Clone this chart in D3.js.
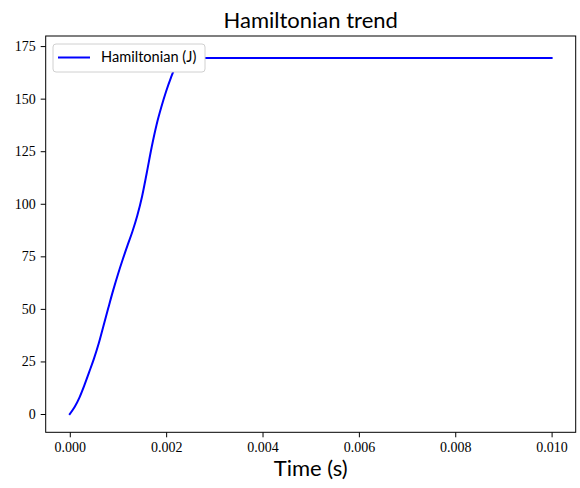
<!DOCTYPE html>
<html><head><meta charset="utf-8">
<script src="https://cdn.jsdelivr.net/npm/d3@7"></script>
<style>body{margin:0;background:#fff}svg{display:block}</style>
</head><body>
<svg id="c" width="580" height="488"></svg>
<script>
const times = [0,0.0001,0.0002,0.0003,0.0004,0.0005,0.0006,0.0007,0.0008,0.0009,0.0010,0.0011,0.0012,0.0013,0.0014,0.0015,0.0016,0.0017,0.0018,0.0019,0.0020,0.0021,0.0022,0.0023,0.0024,0.0030,0.0040,0.0050,0.0060,0.0070,0.0080,0.0090,0.0100];
const hamiltonian = [0,3.3,7.8,13.5,19.8,26.2,33.5,42,50.5,58.8,66.5,73.6,80.3,86.8,94.3,103.5,115,127,137.5,146,153.5,160,165.5,168.5,169.3,169.3,169.3,169.3,169.3,169.3,169.3,169.3,169.3];
const xTicks = [0,0.002,0.004,0.006,0.008,0.010];
const yTicks = [0,25,50,75,100,125,150,175];
const titleText = "Hamiltonian trend";
const xLabel = "Time (s)";
const seriesName = "Hamiltonian (J)";

const svg = d3.select("#c");
const L = 45.7, R = 575.7, T = 36, B = 432.3;
const x = d3.scaleLinear().domain([-0.0005, 0.0105]).range([L, R]);
const y = d3.scaleLinear().domain([-8.7, 179.8]).range([B, T]);

const data = times.map((t,i)=>({t, h: hamiltonian[i]}));
svg.append("path").datum(data)
  .attr("fill","none").attr("stroke","#0000ff").attr("stroke-width",2)
  .attr("stroke-linejoin","round").attr("stroke-linecap","square")
  .attr("d", d3.line().curve(d3.curveMonotoneX).x(d=>x(d.t)).y(d=>y(d.h)));

const xAxis = svg.append("g").attr("transform",`translate(0,${B})`)
  .call(d3.axisBottom(x).tickValues(xTicks).tickFormat(d3.format(".3f")).tickSizeOuter(0).tickSize(5).tickPadding(5));
const yAxis = svg.append("g").attr("transform",`translate(${L},0)`)
  .call(d3.axisLeft(y).tickValues(yTicks).tickFormat(d3.format("d")).tickSizeOuter(0).tickSize(5).tickPadding(5));
[xAxis,yAxis].forEach(a=>{
  a.select(".domain").remove();
  a.selectAll("line").attr("stroke","#000").attr("stroke-width",1);
  a.selectAll("text").attr("font-family","'Liberation Serif', serif").attr("font-size",14).attr("fill","#000");
});
yAxis.selectAll("text").attr("dy","0.32em");

svg.append("rect").attr("x",L).attr("y",T).attr("width",R-L).attr("height",B-T)
  .attr("fill","none").attr("stroke","#000").attr("stroke-width",1);

// legend
const lg = svg.append("g");
lg.append("rect").attr("x",53).attr("y",44).attr("width",152).attr("height",28).attr("rx",3)
  .attr("fill","#fff").attr("stroke","#d0d0d0").attr("stroke-width",1);
lg.append("line").attr("x1",58).attr("x2",90).attr("y1",57.5).attr("y2",57.5)
  .attr("stroke","#0000ff").attr("stroke-width",2);
lg.append("text").attr("x",101).attr("y",62).text(seriesName)
  .attr("font-family","Lato, sans-serif").attr("font-size",14.6).attr("fill","#000");

svg.append("text").attr("x",(L+R)/2).attr("y",28).attr("text-anchor","middle").text(titleText)
  .attr("font-family","Lato, sans-serif").attr("font-size",22).attr("fill","#000");
svg.append("text").attr("x",(L+R)/2).attr("y",476).attr("text-anchor","middle").text(xLabel)
  .attr("font-family","Lato, sans-serif").attr("font-size",22).attr("fill","#000");
</script>
</body></html>
